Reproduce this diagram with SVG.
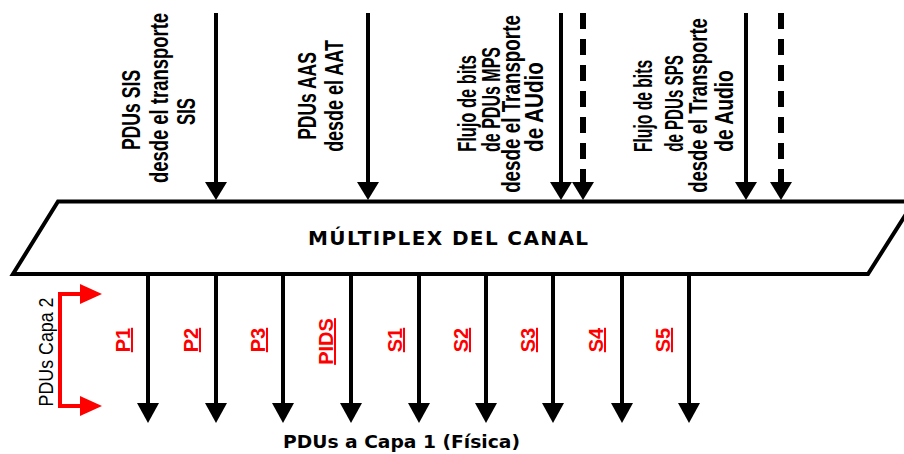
<svg xmlns="http://www.w3.org/2000/svg" width="904" height="454" viewBox="0 0 904 454">
<defs>
<style>
.lbl{font-family:"Liberation Sans",Arial,sans-serif;font-weight:bold;font-size:25px;fill:#000;text-anchor:middle}
.red{font-family:"Liberation Sans",Arial,sans-serif;font-weight:bold;font-size:20px;fill:#f00;text-anchor:middle;text-decoration:underline}
.title{font-family:"DejaVu Sans",Verdana,sans-serif;font-weight:bold;font-size:18px;fill:#000;text-anchor:middle}
.big{font-size:20px}
.cap2{font-family:"Liberation Sans",Arial,sans-serif;font-size:20px;fill:#000;text-anchor:middle}
.shaft{stroke:#000;stroke-width:4;fill:none}
.dash{stroke:#000;stroke-width:6;fill:none;stroke-dasharray:16 10}
.redline{stroke:#f00;stroke-width:4;fill:none;stroke-linejoin:miter}
</style>
<marker id="ahTop" markerUnits="userSpaceOnUse" markerWidth="18" markerHeight="22" refX="0" refY="11" orient="auto" overflow="visible">
<path d="M0,0 L18,11 L0,22 z" fill="#000"/>
</marker>
<marker id="ahBot" markerUnits="userSpaceOnUse" markerWidth="20" markerHeight="22" refX="0" refY="11" orient="auto" overflow="visible">
<path d="M0,0 L20,11 L0,22 z" fill="#000"/>
</marker>
<marker id="ahRed" markerUnits="userSpaceOnUse" markerWidth="22" markerHeight="20" refX="0" refY="10" orient="auto" overflow="visible">
<path d="M0,0 L22,10 L0,20 z" fill="#f00"/>
</marker>
</defs>
<rect width="904" height="454" fill="#fff"/>

<g id="connectors">
<line class="shaft" x1="216" y1="13" x2="216" y2="182" marker-end="url(#ahTop)"/>
<line class="shaft" x1="368" y1="13" x2="368" y2="182" marker-end="url(#ahTop)"/>
<line class="shaft" x1="561" y1="13" x2="561" y2="182" marker-end="url(#ahTop)"/>
<line class="dash" x1="583" y1="13" x2="583" y2="182" marker-end="url(#ahTop)"/>
<line class="shaft" x1="746" y1="13" x2="746" y2="182" marker-end="url(#ahTop)"/>
<line class="dash" x1="781" y1="13" x2="781" y2="182" marker-end="url(#ahTop)"/>

<line class="shaft" x1="148" y1="274" x2="148" y2="403" marker-end="url(#ahBot)"/>
<line class="shaft" x1="216" y1="274" x2="216" y2="403" marker-end="url(#ahBot)"/>
<line class="shaft" x1="283" y1="274" x2="283" y2="403" marker-end="url(#ahBot)"/>
<line class="shaft" x1="351" y1="274" x2="351" y2="403" marker-end="url(#ahBot)"/>
<line class="shaft" x1="419" y1="274" x2="419" y2="403" marker-end="url(#ahBot)"/>
<line class="shaft" x1="486" y1="274" x2="486" y2="403" marker-end="url(#ahBot)"/>
<line class="shaft" x1="553" y1="274" x2="553" y2="403" marker-end="url(#ahBot)"/>
<line class="shaft" x1="622" y1="274" x2="622" y2="403" marker-end="url(#ahBot)"/>
<line class="shaft" x1="689" y1="274" x2="689" y2="403" marker-end="url(#ahBot)"/>
</g>

<g id="mux">
<polygon points="58,201.5 914,201.5 868,274 13,274" fill="#fff" stroke="#000" stroke-width="4" stroke-linejoin="miter"/>
<text class="title big" x="448" y="245" textLength="280" lengthAdjust="spacing">MÚLTIPLEX DEL CANAL</text>
</g>

<g id="src-sis">
<text class="lbl" transform="translate(140,110) rotate(-90) scale(0.75,1)" textLength="107" lengthAdjust="spacingAndGlyphs">PDUs SIS</text>
<text class="lbl" transform="translate(168,98) rotate(-90) scale(0.75,1)" textLength="227" lengthAdjust="spacingAndGlyphs">desde el transporte</text>
<text class="lbl" transform="translate(195,111.5) rotate(-90) scale(0.75,1)" textLength="36" lengthAdjust="spacingAndGlyphs">SIS</text>
</g>

<g id="src-aas">
<text class="lbl" transform="translate(316,96) rotate(-90) scale(0.75,1)" textLength="117" lengthAdjust="spacingAndGlyphs">PDUs AAS</text>
<text class="lbl" transform="translate(343,96) rotate(-90) scale(0.75,1)" textLength="149" lengthAdjust="spacingAndGlyphs">desde el AAT</text>
</g>

<g id="src-mps">
<text class="lbl" transform="translate(476,103.5) rotate(-90) scale(0.75,1)" textLength="129" lengthAdjust="spacingAndGlyphs">Flujo de bits</text>
<text class="lbl" transform="translate(500,99.5) rotate(-90) scale(0.75,1)" textLength="140" lengthAdjust="spacingAndGlyphs">de PDUs MPS</text>
<text class="lbl" transform="translate(520,104) rotate(-90) scale(0.75,1)" textLength="237" lengthAdjust="spacingAndGlyphs">desde el Transporte</text>
<text class="lbl" transform="translate(543,107) rotate(-90) scale(0.75,1)" textLength="120" lengthAdjust="spacingAndGlyphs">de AUdio</text>
</g>

<g id="src-sps">
<text class="lbl" transform="translate(652,106) rotate(-90) scale(0.75,1)" textLength="123" lengthAdjust="spacingAndGlyphs">Flujo de bits</text>
<text class="lbl" transform="translate(683,103.5) rotate(-90) scale(0.75,1)" textLength="129" lengthAdjust="spacingAndGlyphs">de PDUs SPS</text>
<text class="lbl" transform="translate(707,105.5) rotate(-90) scale(0.75,1)" textLength="233" lengthAdjust="spacingAndGlyphs">desde el Transporte</text>
<text class="lbl" transform="translate(733,111) rotate(-90) scale(0.75,1)" textLength="109" lengthAdjust="spacingAndGlyphs">de Audio</text>
</g>

<g id="out-labels">
<text class="red" transform="translate(130,340) rotate(-90)">P1</text>
<text class="red" transform="translate(198,340) rotate(-90)">P2</text>
<text class="red" transform="translate(265,340) rotate(-90)">P3</text>
<text class="red" transform="translate(333,341.5) rotate(-90)">PIDS</text>
<text class="red" transform="translate(402,340) rotate(-90)">S1</text>
<text class="red" transform="translate(468,340) rotate(-90)">S2</text>
<text class="red" transform="translate(535,340) rotate(-90)">S3</text>
<text class="red" transform="translate(603,340) rotate(-90)">S4</text>
<text class="red" transform="translate(670,340) rotate(-90)">S5</text>
</g>

<g id="capa2">
<path class="redline" d="M60,350 V294 H80" marker-end="url(#ahRed)"/>
<path class="redline" d="M60,350 V406 H80" marker-end="url(#ahRed)"/>
<text class="cap2" transform="translate(53,352) rotate(-90) scale(0.9,1)" textLength="121" lengthAdjust="spacingAndGlyphs">PDUs Capa 2</text>
</g>

<g id="capa1">
<text class="title" x="401.5" y="448" textLength="237" lengthAdjust="spacingAndGlyphs">PDUs a Capa 1 (Física)</text>
</g>
</svg>
